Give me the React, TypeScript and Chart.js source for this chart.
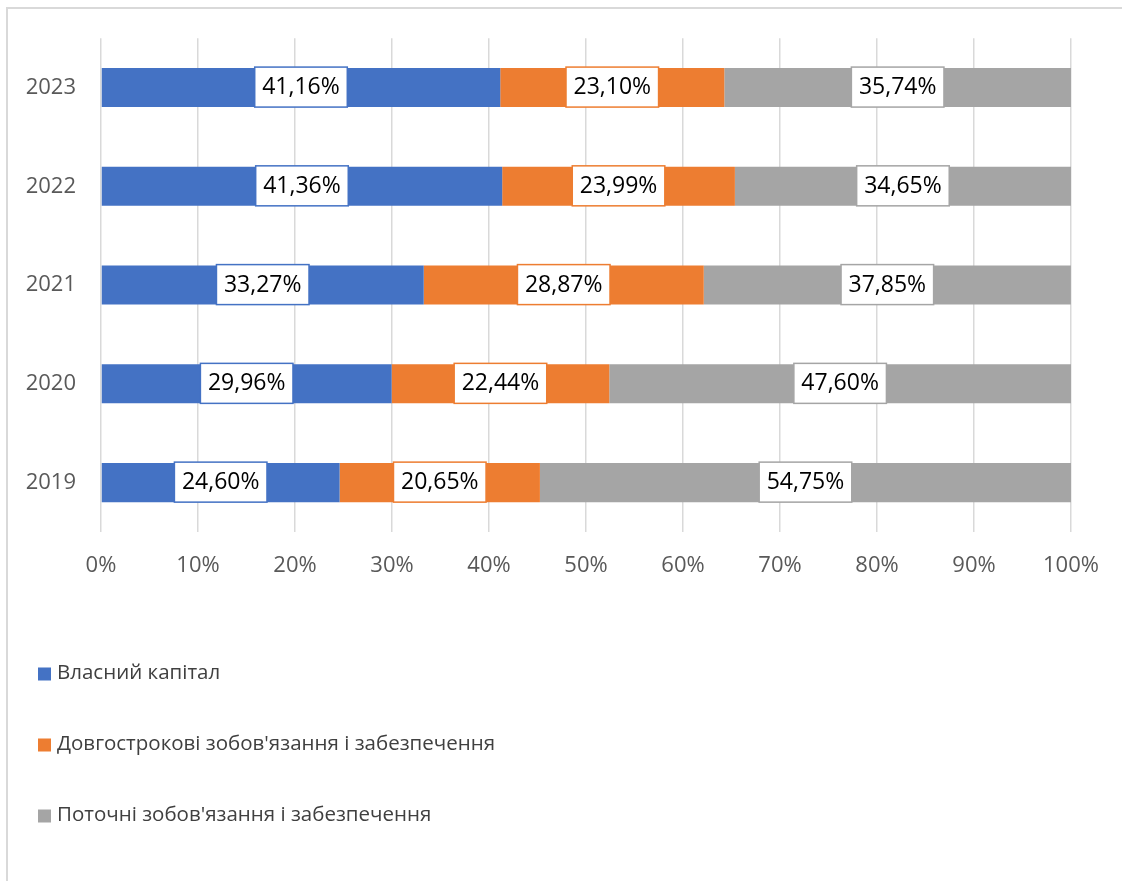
import React, { useEffect, useRef } from "react";
import { Chart, registerables } from "chart.js";

Chart.register(...registerables);

const categories = ["2023", "2022", "2021", "2020", "2019"];
const seriesNames = [
  "Власний капітал",
  "Довгострокові зобов'язання і забезпечення",
  "Поточні зобов'язання і забезпечення",
];
const equity = [41.16, 41.36, 33.27, 29.96, 24.6];
const longTerm = [23.1, 23.99, 28.87, 22.44, 20.65];
const current = [35.74, 34.65, 37.85, 47.6, 54.75];
const seriesColors = ["#4472C4", "#ED7D31", "#A5A5A5"];
const xTickValues = [0, 10, 20, 30, 40, 50, 60, 70, 80, 90, 100];

const FONT = "'Open Sans', 'Noto Sans', sans-serif";

const fmt = (v: number) => v.toFixed(2).replace(".", ",") + "%";

const bgPlugin = {
  id: "bgFrame",
  beforeDraw(chart: any) {
    const ctx = chart.ctx;
    ctx.save();
    ctx.fillStyle = "#ffffff";
    ctx.fillRect(0, 0, chart.width, chart.height);
    ctx.fillStyle = "#d9d9d9";
    ctx.fillRect(6, 7, 2, chart.height - 7);
    ctx.fillRect(6, 7, chart.width - 6, 2);
    ctx.restore();
  },
};

const labelPlugin = {
  id: "boxLabels",
  afterDatasetsDraw(chart: any) {
    const ctx = chart.ctx;
    ctx.save();
    ctx.font = `23px ${FONT}`;
    ctx.textAlign = "center";
    ctx.textBaseline = "middle";
    chart.data.datasets.forEach((ds: any, di: number) => {
      const meta = chart.getDatasetMeta(di);
      meta.data.forEach((el: any, i: number) => {
        const v = ds.data[i] as number;
        const text = fmt(v);
        const cx = (el.x + el.base) / 2;
        const cy = el.y;
        const tw = ctx.measureText(text).width;
        const w = tw + 15;
        const h = 40;
        ctx.fillStyle = "#ffffff";
        ctx.fillRect(cx - w / 2, cy - h / 2 - 0.5, w, h);
        ctx.strokeStyle = ds.backgroundColor;
        ctx.lineWidth = 1.5;
        ctx.strokeRect(cx - w / 2, cy - h / 2 - 0.5, w, h);
        ctx.fillStyle = "#000000";
        ctx.fillText(text, cx, cy);
      });
    });
    ctx.restore();
  },
};

const legendPlugin = {
  id: "vertLegend",
  afterDraw(chart: any) {
    const ctx = chart.ctx;
    ctx.save();
    ctx.font = `20.5px ${FONT}`;
    ctx.textAlign = "left";
    ctx.textBaseline = "middle";
    const ys = [674, 745, 816];
    chart.data.datasets.forEach((ds: any, i: number) => {
      const y = ys[i];
      ctx.fillStyle = ds.backgroundColor;
      ctx.fillRect(38, y - 6.5, 13, 13);
      ctx.fillStyle = "#404040";
      ctx.fillText(ds.label, 57, y - 1);
    });
    ctx.restore();
  },
};

export default function App() {
  const ref = useRef<HTMLCanvasElement>(null);
  useEffect(() => {
    if (!ref.current) return;
    const chart = new Chart(ref.current, {
      type: "bar",
      data: {
        labels: categories,
        datasets: [equity, longTerm, current].map((d, i) => ({
          label: seriesNames[i],
          data: d,
          backgroundColor: seriesColors[i],
          borderWidth: 0,
          categoryPercentage: 1,
          barPercentage: 0.395,
        })),
      },
      options: {
        indexAxis: "y",
        responsive: false,
        animation: false,
        layout: { padding: { top: 35, right: 51, bottom: 289, left: 0 } },
        plugins: {
          legend: { display: false },
          tooltip: { enabled: false },
        },
        scales: {
          x: {
            stacked: true,
            min: 0,
            max: 100,
            afterBuildTicks: (scale: any) => {
              scale.ticks = xTickValues.map((v) => ({ value: v }));
            },
            afterFit: (scale: any) => {
              scale.height = 60;
            },
            grid: { color: "#d9d9d9", lineWidth: 1.5, drawTicks: false },
            border: { display: false },
            ticks: {
              padding: 21,
              color: "#595959",
              font: { family: FONT, size: 22 },
              callback: (v: any) => v + "%",
              maxRotation: 0,
            },
          },
          y: {
            stacked: true,
            afterFit: (scale: any) => {
              scale.width = 101;
            },
            grid: { display: false, drawTicks: false },
            border: { display: false },
            ticks: {
              padding: 25,
              color: "#595959",
              font: { family: FONT, size: 22 },
            },
          },
        },
      },
      plugins: [bgPlugin, labelPlugin, legendPlugin],
    } as any);
    return () => chart.destroy();
  }, []);
  return (
    <div style={{ position: "absolute", left: 0, top: 0, width: 1122, height: 881 }}>
      <canvas ref={ref} width={1122} height={881} style={{ width: 1122, height: 881, display: "block" }} />
    </div>
  );
}
